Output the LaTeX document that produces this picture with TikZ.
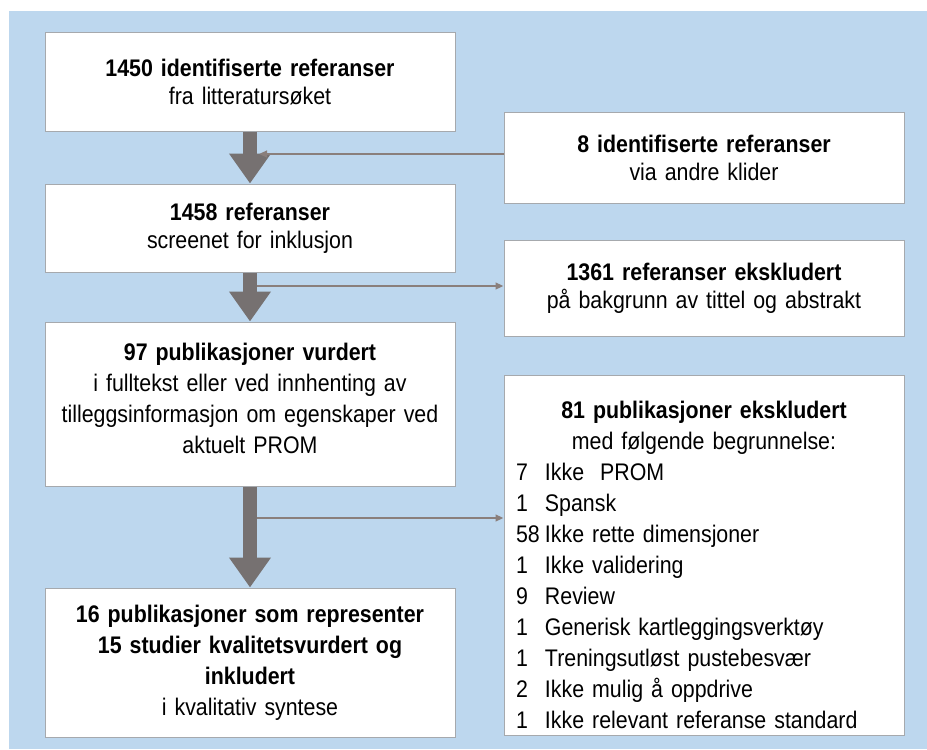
\documentclass[tikz,border=0pt]{standalone}
\usepackage{fontspec}
\setmainfont{Liberation Sans}[FakeStretch=0.89]
\usetikzlibrary{arrows.meta}

\definecolor{bgblue}{HTML}{BDD7EE}
\definecolor{arrowgray}{HTML}{767171}
\definecolor{linegray}{HTML}{8A7F7C}
\definecolor{boxgray}{HTML}{A6A9AD}

\newcommand{\grunn}[2]{\makebox[282pt][l]{\makebox[21.75pt][l]{#1}#2}}

\begin{document}
\begin{tikzpicture}[x=0.75pt, y=-0.75pt,
    box/.style={draw=boxgray, fill=white, line width=0.75pt, align=center,
      inner xsep=9pt, inner ysep=0pt},
    leftbox/.style={box, text width=289.5pt},
    rightbox/.style={box, text width=282pt},
    small/.style={font=\fontsize{18}{21}\selectfont},
    tall/.style={font=\fontsize{18}{23.25}\selectfont},
    bigarrow/.style={draw=arrowgray, line width=10.5pt,
      -{Triangle[width=30pt, length=22.5pt]}},
    thinarrow/.style={draw=linegray, line width=1.5pt,
      -{Triangle[width=5pt, length=6pt]}}]

    \useasboundingbox (0,0) rectangle (927,749);

    % Background
    \fill[bgblue] (9,11) rectangle (927,749);

    % Main column
    \node[leftbox, small, minimum height=73.5pt] (b1) at (250,82)
      {\textbf{1450 identifiserte referanser}\\fra litteratursøket};
    \node[leftbox, small, minimum height=66pt] (b2) at (250,228)
      {\textbf{1458 referanser}\\screenet for inklusjon};
    \node[leftbox, tall, minimum height=123pt] (b3) at (250,404)
      {\textbf{97 publikasjoner vurdert}\\i fulltekst eller ved innhenting av\\
       tilleggsinformasjon om egenskaper ved\\aktuelt PROM\rule[-9pt]{0pt}{0pt}};
    \node[leftbox, tall, minimum height=111.75pt] (b4) at (250,662.5)
      {\textbf{16 publikasjoner som representer}\\
       \textbf{15 studier kvalitetsvurdert og}\\\textbf{inkludert}\\
       i kvalitativ syntese};

    % Side column
    \node[rightbox, small, minimum height=68.25pt] (r1) at (704,157.5)
      {\textbf{8 identifiserte referanser}\\via andre klider};
    \node[rightbox, small, minimum height=72pt] (r2) at (704,288)
      {\textbf{1361 referanser ekskludert}\\på bakgrunn av tittel og abstrakt};
    \node[rightbox, tall, minimum height=270pt] (r3) at (704,555)
      {\rule{0pt}{28pt}\textbf{81 publikasjoner ekskludert}\\med følgende begrunnelse:\\
       \grunn{7}{Ikke\ \ PROM}\\
       \grunn{1}{Spansk}\\
       \grunn{58}{Ikke rette dimensjoner}\\
       \grunn{1}{Ikke validering}\\
       \grunn{9}{Review}\\
       \grunn{1}{Generisk kartleggingsverktøy}\\
       \grunn{1}{Treningsutløst pustebesvær}\\
       \grunn{2}{Ikke mulig å oppdrive}\\
       \grunn{1}{Ikke relevant referanse standard}};

    % Flow arrows
    \draw[bigarrow] (b1) -- (b2);
    \draw[bigarrow] (b2) -- (b3);
    \draw[bigarrow] (b3) -- (b4);

    % Side connectors
    \coordinate (j1) at (259,154);
    \coordinate (j2) at (257,286);
    \coordinate (j3) at (257,518);
    \draw[thinarrow] (j1 -| r1.west) -- (j1);
    \draw[thinarrow] (j2) -- (j2 -| r2.west);
    \draw[thinarrow] (j3) -- (j3 -| r3.west);
\end{tikzpicture}
\end{document}
